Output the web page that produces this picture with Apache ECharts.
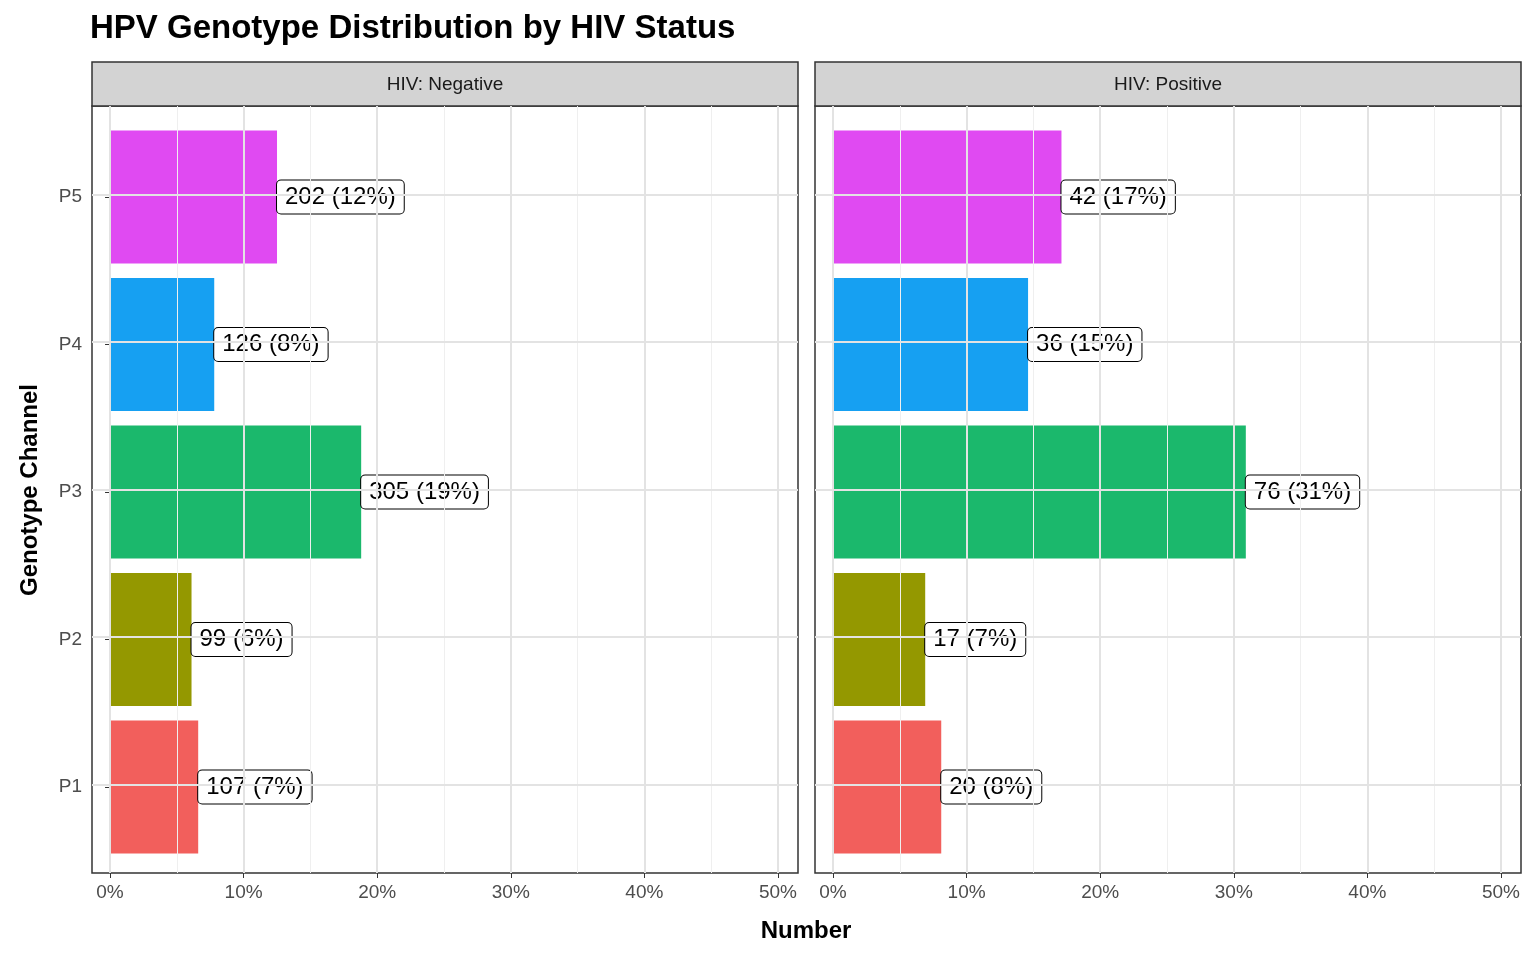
<!DOCTYPE html>
<html><head><meta charset="utf-8">
<script src="https://cdn.jsdelivr.net/npm/echarts@6/dist/echarts.min.js"></script>
<style>html,body{margin:0;padding:0;background:#fff}#main{width:1536px;height:960px}</style>
</head><body><div id="main"></div>
<script>
var categories = ['P1', 'P2', 'P3', 'P4', 'P5'];
var colors = ['#F25F5C', '#949800', '#1BB86C', '#16A0F2', '#E04AF2'];
var panels = ['HIV: Negative', 'HIV: Positive'];
var negCounts = [107, 99, 305, 126, 202];
var negPct = [6.6, 6.1, 18.8, 7.8, 12.5];
var negPctLabel = [7, 6, 19, 8, 12];
var posCounts = [20, 17, 76, 36, 42];
var posPct = [8.1, 6.9, 30.9, 14.6, 17.1];
var posPctLabel = [8, 7, 31, 15, 17];
var xTicks = [0, 10, 20, 30, 40, 50];
var xMinor = [5, 15, 25, 35, 45];

var myChart = echarts.init(document.getElementById('main'));
var gridLefts = [92, 815];
var font = 'Liberation Sans, Arial, sans-serif';

var grids = [], xAxes = [], yAxes = [], series = [], graphics = [];
[[negCounts, negPct, negPctLabel], [posCounts, posPct, posPctLabel]].forEach(function (d, i) {
    // background panel: frame, gridlines, x labels
    grids.push({left: gridLefts[i], width: 706, top: 106, height: 767,
        show: true, borderColor: '#333', borderWidth: 1.5, backgroundColor: 'transparent'});
    xAxes.push({type: 'value', gridIndex: 2 * i, min: -1.35, max: 51.5,
        splitLine: {show: false}, axisLine: {show: false},
        axisTick: {show: true, customValues: xTicks, length: 5, lineStyle: {color: '#333'}},
        axisLabel: {customValues: xTicks, formatter: function (v) { return v + '%'; },
            color: '#4d4d4d', fontSize: 19, fontFamily: font, margin: 10}});
    yAxes.push({type: 'value', gridIndex: 2 * i, min: 0.4, max: 5.6,
        splitLine: {show: false}, axisLine: {show: false}, axisTick: {show: false}, axisLabel: {show: false}});
    var lines = [];
    xMinor.forEach(function (v) { lines.push({xAxis: v, lineStyle: {color: '#efefef', width: 1, type: 'solid'}}); });
    xTicks.forEach(function (v) { lines.push({xAxis: v, lineStyle: {color: '#e3e3e3', width: 2, type: 'solid'}}); });
    [1, 2, 3, 4, 5].forEach(function (v) { lines.push({yAxis: v, lineStyle: {color: '#e3e3e3', width: 2, type: 'solid'}}); });
    series.push({type: 'line', xAxisIndex: 2 * i, yAxisIndex: 2 * i, data: [], z: 0,
        markLine: {silent: true, symbol: 'none', label: {show: false}, animation: false, data: lines}});

    // bar panel: category bands of the same spacing as ggplot's expanded axis
    grids.push({left: gridLefts[i], width: 706, top: 123.25, height: 737.5, show: false});
    xAxes.push({type: 'value', gridIndex: 2 * i + 1, min: -1.35, max: 51.5, show: false});
    yAxes.push({type: 'category', gridIndex: 2 * i + 1, data: categories,
        axisLine: {show: false}, splitLine: {show: false},
        axisTick: {show: i === 0, alignWithLabel: true, length: 5, lineStyle: {color: '#333'}},
        axisLabel: {show: i === 0, color: '#4d4d4d', fontSize: 19, fontFamily: font, margin: 10}});
    series.push({type: 'bar', xAxisIndex: 2 * i + 1, yAxisIndex: 2 * i + 1, barWidth: 133,
        data: d[1].map(function (p, k) {
            return {value: p, itemStyle: {color: colors[k]},
                label: {formatter: d[0][k] + ' (' + d[2][k] + '%)'}};
        }),
        label: {show: true, position: 'right', distance: 0, color: '#000', fontSize: 24,
            fontFamily: font, backgroundColor: '#fff', borderColor: '#000', borderWidth: 1,
            borderRadius: 4, padding: [5, 8, 4, 8]},
        z: 3});

    graphics.push({type: 'rect', shape: {x: gridLefts[i], y: 62, width: 706, height: 44},
        style: {fill: '#d3d3d3', stroke: '#333', lineWidth: 1.5}});
    graphics.push({type: 'text', x: gridLefts[i] + 353, y: 85,
        style: {text: panels[i], fill: '#1a1a1a', font: '19px ' + font, align: 'center', verticalAlign: 'middle'}});
});
graphics.push({type: 'text', x: 90, y: 29, style: {text: 'HPV Genotype Distribution by HIV Status',
    fill: '#000', font: 'bold 33px ' + font, verticalAlign: 'middle'}});
graphics.push({type: 'text', x: 806, y: 931, style: {text: 'Number',
    fill: '#000', font: 'bold 24px ' + font, align: 'center', verticalAlign: 'middle'}});
graphics.push({type: 'text', x: 30, y: 490, rotation: Math.PI / 2, style: {text: 'Genotype Channel',
    fill: '#000', font: 'bold 24px ' + font, align: 'center', verticalAlign: 'middle'}});

myChart.setOption({
    animation: false,
    grid: grids, xAxis: xAxes, yAxis: yAxes, series: series, graphic: graphics
});
</script></body></html>
